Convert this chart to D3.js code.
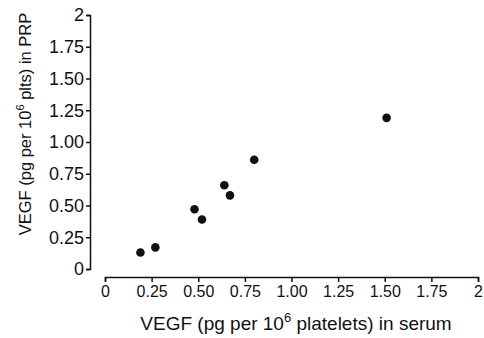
<!DOCTYPE html>
<html>
<head>
<meta charset="utf-8">
<script src="https://cdn.jsdelivr.net/npm/d3@7"></script>
<style>
  body { margin: 0; background: #fff; }
  text { font-family: "Liberation Sans", Arial, sans-serif; fill: #111; }
</style>
</head>
<body>
<div id="chart"></div>
<script>
var width = 484,
    height = 338;

// values
var serum = [0.19, 0.27, 0.48, 0.52, 0.64, 0.67, 0.80, 1.51];
var prp   = [0.13, 0.17, 0.47, 0.39, 0.66, 0.58, 0.86, 1.19];

var tickValues = [0, 0.25, 0.5, 0.75, 1, 1.25, 1.5, 1.75, 2];
var tickLabels = ["0", "0.25", "0.50", "0.75", "1.00", "1.25", "1.50", "1.75", "2"];

var x = d3.scaleLinear().domain([0, 2]).range([105, 478]);
var y = d3.scaleLinear().domain([0, 2]).range([269, 15]);

var svg = d3.select("#chart").append("svg")
    .attr("width", width)
    .attr("height", height);

var fmt = function(d, i) { return tickLabels[i]; };

// y axis
var yAxis = svg.append("g")
    .attr("transform", "translate(90,0)")
    .call(d3.axisLeft(y).tickValues(tickValues).tickFormat(fmt).tickSizeOuter(0).tickSize(4).tickPadding(2));
yAxis.selectAll(".tick text").attr("font-size", 18);

// x axis sits a little below the y axis
var xAxis = svg.append("g")
    .attr("transform", "translate(0,277)")
    .call(d3.axisBottom(x).tickValues(tickValues).tickFormat(fmt).tickSizeOuter(0).tickSize(5).tickPadding(4));
xAxis.selectAll(".tick text").attr("font-size", 16);

svg.selectAll(".domain, .tick line")
    .attr("stroke", "#111")
    .attr("stroke-width", 1.5);
svg.selectAll(".tick text").attr("fill", "#111");

// dots
svg.append("g").selectAll("circle")
    .data(serum)
  .enter().append("circle")
    .attr("cx", function(d) { return x(d); })
    .attr("cy", function(d, i) { return y(prp[i]); })
    .attr("r", 4.3)
    .attr("fill", "#111");

// axis titles
var xt = svg.append("text")
    .attr("x", 296)
    .attr("y", 330)
    .attr("text-anchor", "middle")
    .attr("font-size", 19);
xt.append("tspan").text("VEGF (pg per 10");
xt.append("tspan").attr("font-size", 13).attr("dy", -8).text("6");
xt.append("tspan").attr("dy", 8).text(" platelets) in serum");

var yt = svg.append("text")
    .attr("transform", "translate(31,124) rotate(-90)")
    .attr("text-anchor", "middle")
    .attr("font-size", 16.5);
yt.append("tspan").text("VEGF (pg per 10");
yt.append("tspan").attr("font-size", 11).attr("dy", -7).text("6");
yt.append("tspan").attr("dy", 7).text(" plts) in PRP");
</script>
</body>
</html>
